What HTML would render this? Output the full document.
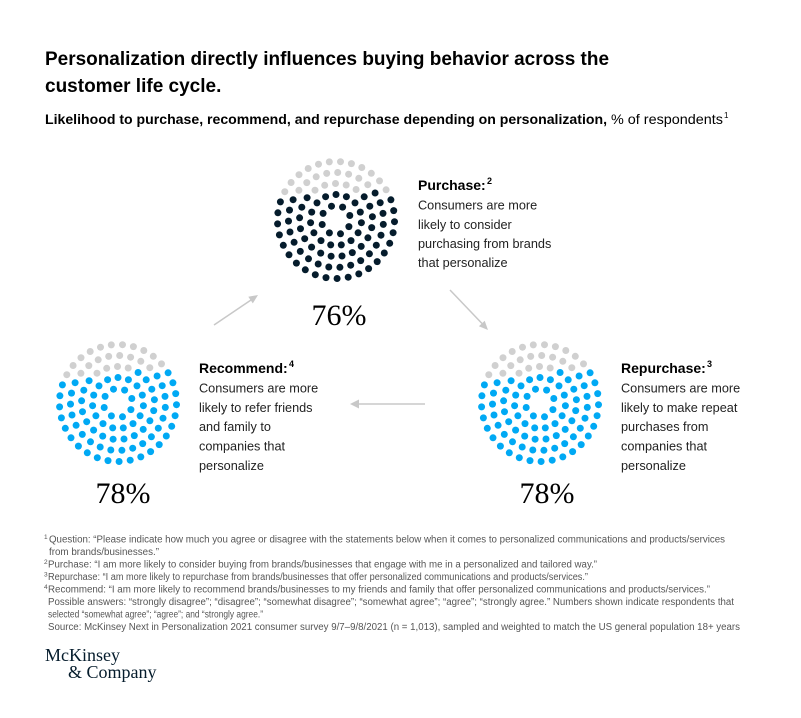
<!DOCTYPE html>
<html>
<head>
<meta charset="utf-8">
<style>
html,body{margin:0;padding:0;background:#fff;}
svg{display:block;}
</style>
</head>
<body>
<svg id="c" width="801" height="718" viewBox="0 0 801 718" xmlns="http://www.w3.org/2000/svg">
<rect width="801" height="718" fill="#fff"/>
<g font-family="Liberation Sans, sans-serif">
  <!-- Title -->
  <text x="45" y="65" font-size="19" font-weight="bold" fill="#000" textLength="564" lengthAdjust="spacingAndGlyphs">Personalization directly influences buying behavior across the</text>
  <text x="45" y="92" font-size="19" font-weight="bold" fill="#000">customer life cycle.</text>
  <!-- Subtitle -->
  <text x="45" y="124" font-size="14" font-weight="bold" fill="#000" textLength="562" lengthAdjust="spacingAndGlyphs">Likelihood to purchase, recommend, and repurchase depending on personalization,</text>
  <text x="611" y="124" font-size="14" fill="#000" textLength="112" lengthAdjust="spacingAndGlyphs">% of respondents</text>
  <text x="724" y="118" font-size="8" fill="#000">1</text>

  <!-- Purchase label -->
  <text x="418" y="190" font-size="14" font-weight="bold" fill="#000">Purchase:</text>
  <text x="487" y="184" font-size="9" font-weight="bold" fill="#000">2</text>
  <g font-size="12.7" fill="#222">
    <text x="418" y="209.5">Consumers are more</text>
    <text x="418" y="229">likely to consider</text>
    <text x="418" y="248">purchasing from brands</text>
    <text x="418" y="267">that personalize</text>
  </g>

  <!-- Recommend label -->
  <text x="199" y="373" font-size="14" font-weight="bold" fill="#000">Recommend:</text>
  <text x="289" y="367" font-size="9" font-weight="bold" fill="#000">4</text>
  <g font-size="12.7" fill="#222">
    <text x="199" y="392.5">Consumers are more</text>
    <text x="199" y="412">likely to refer friends</text>
    <text x="199" y="431">and family to</text>
    <text x="199" y="450.5">companies that</text>
    <text x="199" y="470">personalize</text>
  </g>

  <!-- Repurchase label -->
  <text x="621" y="373" font-size="14" font-weight="bold" fill="#000">Repurchase:</text>
  <text x="707" y="367" font-size="9" font-weight="bold" fill="#000">3</text>
  <g font-size="12.7" fill="#222">
    <text x="621" y="392.5">Consumers are more</text>
    <text x="621" y="412">likely to make repeat</text>
    <text x="621" y="431">purchases from</text>
    <text x="621" y="450.5">companies that</text>
    <text x="621" y="470">personalize</text>
  </g>

  <!-- Footnotes -->
  <g font-size="9.8" fill="#555">
    <text x="44" y="539" font-size="6.5">1</text>
    <text x="49" y="542.5" textLength="676" lengthAdjust="spacingAndGlyphs">Question: “Please indicate how much you agree or disagree with the statements below when it comes to personalized communications and products/services</text>
    <text x="49" y="555">from brands/businesses.”</text>
    <text x="44" y="564" font-size="6.5">2</text>
    <text x="48" y="567.5" textLength="549" lengthAdjust="spacingAndGlyphs">Purchase: “I am more likely to consider buying from brands/businesses that engage with me in a personalized and tailored way.”</text>
    <text x="44" y="576.5" font-size="6.5">3</text>
    <text x="48" y="580" textLength="540" lengthAdjust="spacingAndGlyphs">Repurchase: “I am more likely to repurchase from brands/businesses that offer personalized communications and products/services.”</text>
    <text x="44" y="589" font-size="6.5">4</text>
    <text x="48" y="592.5" textLength="662" lengthAdjust="spacingAndGlyphs">Recommend: “I am more likely to recommend brands/businesses to my friends and family that offer personalized communications and products/services.”</text>
    <text x="48" y="605" textLength="686" lengthAdjust="spacingAndGlyphs">Possible answers: “strongly disagree”; “disagree”; “somewhat disagree”; “somewhat agree”; “agree”; “strongly agree.” Numbers shown indicate respondents that</text>
    <text x="48" y="617.5" textLength="215" lengthAdjust="spacingAndGlyphs">selected “somewhat agree”; “agree”; and “strongly agree.”</text>
    <text x="48" y="630" textLength="692" lengthAdjust="spacingAndGlyphs">Source: McKinsey Next in Personalization 2021 consumer survey 9/7–9/8/2021 (n = 1,013), sampled and weighted to match the US general population 18+ years</text>
  </g>
</g>

<!-- Percentages -->
<g font-family="Liberation Serif, serif" font-size="30" fill="#000" text-anchor="middle">
  <text x="339" y="325">76%</text>
  <text x="123" y="503">78%</text>
  <text x="547" y="503">78%</text>
</g>

<!-- Arrows -->
<g stroke="#c8c8c8" stroke-width="1.5" fill="none">
  <line x1="214" y1="325" x2="251" y2="300"/>
  <line x1="450" y1="290" x2="482" y2="323.5"/>
  <line x1="425" y1="404" x2="358" y2="404"/>
</g>
<g fill="#c8c8c8">
  <polygon points="258,295 252.8,303.4 248.3,296.8"/>
  <polygon points="488,330 478.9,326.2 484.7,320.7"/>
  <polygon points="350,404 359,399.5 359,408.5"/>
</g>

<!-- Dots -->
<g id="dots"></g>

<!-- Logo -->
<g font-family="Liberation Serif, serif" font-size="18" fill="#051c2c">
  <text x="45" y="661">McKinsey</text>
  <text x="68" y="678">&amp; Company</text>
</g>
</svg>
<script>
(function(){
  function dots(cx,cy,pct,col){
    var rings=[[58.5,33,0.15],[47.5,27,0.4],[36.5,21,0.7],[25.5,15,0.25],[14.5,8,0.6]];
    var pts=[];
    rings.forEach(function(rg){
      var r=rg[0],n=rg[1],o=rg[2];
      for(var i=0;i<n;i++){
        var a=2*Math.PI*(i+o)/n;
        pts.push([cx+r*Math.cos(a),cy+r*Math.sin(a)]);
      }
    });
    var order=pts.map(function(p,i){return [p[1]+0.06*(p[0]-cx),i];}).sort(function(a,b){return a[0]-b[0];});
    var ng=Math.round(pts.length*(100-pct)/100);
    var gray={};
    order.slice(0,ng).forEach(function(o){gray[o[1]]=true;});
    var s='';
    pts.forEach(function(p,i){
      s+='<circle cx="'+p[0].toFixed(1)+'" cy="'+p[1].toFixed(1)+'" r="3.5" fill="'+(gray[i]?'#d0d0d0':col)+'"/>';
    });
    return s;
  }
  document.getElementById('dots').innerHTML=
    dots(336,220,76,'#051c2c')+dots(118,403,78,'#00a9f4')+dots(540,403,78,'#00a9f4');
})();
</script>
</body>
</html>
